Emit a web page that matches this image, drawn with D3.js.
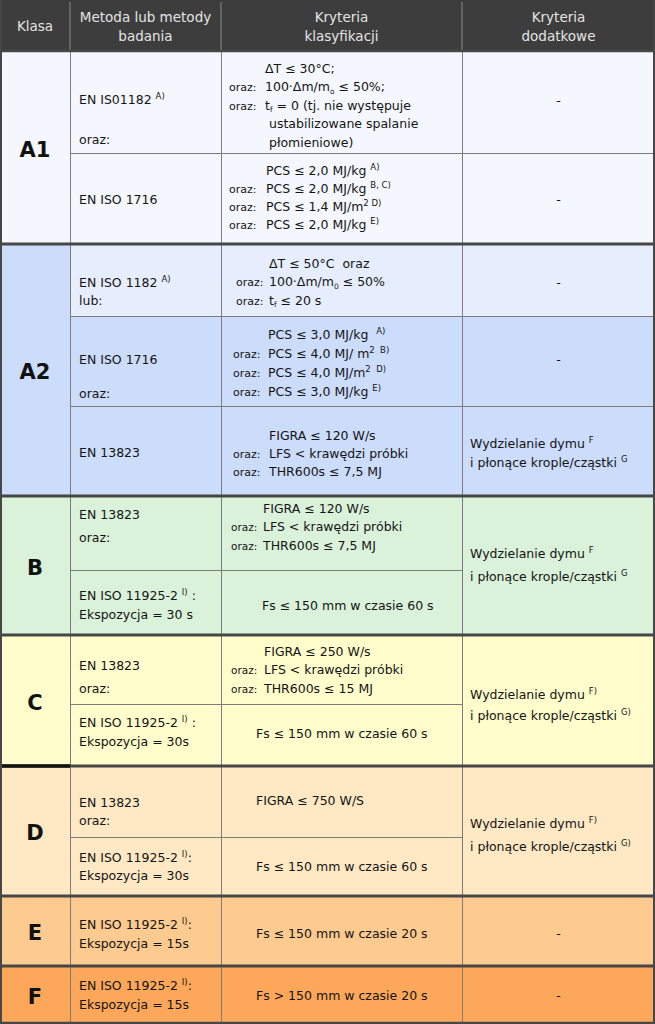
<!DOCTYPE html>
<html><head><meta charset="utf-8">
<script src="https://cdn.jsdelivr.net/npm/d3@7"></script>
<style>html,body{margin:0;padding:0;background:#fff;} svg{display:block;}</style>
</head><body>
<script>
// ---------- DATA ----------
const headers = [["Klasa"],["Metoda lub metody","badania"],["Kryteria","klasyfikacji"],["Kryteria","dodatkowe"]];
const classes = ["A1","A2","B","C","D","E","F"];
// group index of each sub-row
const subrowGroup = [0,0,1,1,1,2,2,3,3,4,4,5,6];
const methods = [
  ["EN IS01182 ^{A)}", "", "oraz:"],
  ["EN ISO 1716"],
  ["EN ISO 1182 ^{A)}", "lub:"],
  ["EN ISO 1716", "", "oraz:"],
  ["EN 13823"],
  ["EN 13823", "oraz:"],
  ["EN ISO 11925-2 ^{I)} :", "Ekspozycja = 30 s"],
  ["EN 13823", "oraz:"],
  ["EN ISO 11925-2 ^{I)} :", "Ekspozycja = 30s"],
  ["EN 13823", "oraz:"],
  ["EN ISO 11925-2 ^{I)}:", "Ekspozycja = 30s"],
  ["EN ISO 11925-2 ^{I)}:", "Ekspozycja = 15s"],
  ["EN ISO 11925-2 ^{I)}:", "Ekspozycja = 15s"]
];
const criteria = [
  [["","ΔT ≤ 30°C;"],["oraz:","100·Δm/m_{o} ≤ 50%;"],["oraz:","t_{f} = 0 (tj. nie występuje"],["","\u00a0ustabilizowane spalanie"],["","\u00a0płomieniowe)"]],
  [["","PCS ≤ 2,0 MJ/kg ^{A)}"],["oraz:","PCS ≤ 2,0 MJ/kg ^{B, C)}"],["oraz:","PCS ≤ 1,4 MJ/m^{2 D)}"],["oraz:","PCS ≤ 2,0 MJ/kg ^{E)}"]],
  [["","ΔT ≤ 50°C\u00a0 oraz"],["oraz:","100·Δm/m_{0} ≤ 50%"],["oraz:","t_{f} ≤ 20 s"]],
  [["","PCS ≤ 3,0 MJ/kg\u00a0 ^{A)}"],["oraz:","PCS ≤ 4,0 MJ/ m^{2\u00a0 B)}"],["oraz:","PCS ≤ 4,0 MJ/m^{2\u00a0 D)}"],["oraz:","PCS ≤ 3,0 MJ/kg ^{E)}"]],
  [["","FIGRA ≤ 120 W/s"],["oraz:","LFS < krawędzi próbki"],["oraz:","THR600s ≤ 7,5 MJ"]],
  [["","FIGRA ≤ 120 W/s"],["oraz:","LFS < krawędzi próbki"],["oraz:","THR600s ≤ 7,5 MJ"]],
  [["","Fs ≤ 150 mm w czasie 60 s"]],
  [["","FIGRA ≤ 250 W/s"],["oraz:","LFS < krawędzi próbki"],["oraz:","THR600s ≤ 15 MJ"]],
  [["","Fs ≤ 150 mm w czasie 60 s"]],
  [["","FIGRA ≤ 750 W/S"]],
  [["","Fs ≤ 150 mm w czasie 60 s"]],
  [["","Fs ≤ 150 mm w czasie 20 s"]],
  [["","Fs > 150 mm w czasie 20 s"]]
];
const smokeF = ["Wydzielanie dymu ^{F}","i płonące krople/cząstki ^{G}"];
const smokeFp = ["Wydzielanie dymu ^{F)}","i płonące krople/cząstki ^{G)}"];
const extras = [
  {rows:[0,0], lines:["-"]},
  {rows:[1,1], lines:["-"]},
  {rows:[2,2], lines:["-"]},
  {rows:[3,3], lines:["-"]},
  {rows:[4,4], lines:smokeF},
  {rows:[5,6], lines:smokeF},
  {rows:[7,8], lines:smokeFp},
  {rows:[9,10], lines:smokeFp},
  {rows:[11,11], lines:["-"]},
  {rows:[12,12], lines:["-"]}
];

// ---------- LAYOUT / STYLE ----------
const W = 655, H = 1024;
const colEdges = [0,70,221,462,655];
const headerH = 50;
const firstTop = 52, sepGap = 2;
const subHeights = [101,90,71,90,89,73,64,68,61,70,58,68,55];
const subFill = ["#f4f7fe","#f4f7fe","#e6eefd","#ccdcfb","#ccdcfb","#daf2da","#daf2da","#fffdcc","#fffdcc","#fee9c4","#fee9c4","#fdca8f","#fca75a"];
const classFill = ["#f4f7fe","#ccdcfb","#daf2da","#fffdcc","#fee9c4","#fdca8f","#fca75a"];
const methodPos = [[47,20],[46,0],[37,18],[43,17],[46,0],[17,23],[25,19],[29,23],[18,19],[35,18],[20,18],[27,19],[18,19]];
const critPos = [[16,18.5],[17,18.3],[18,18.5],[18,19],[29,18],[11,18.5],[35,0],[15,18.5],[29,0],[33,0],[29,0],[36,0],[28,0]];
const critX = [[229,265],[229,266],[236,269],[233,268],[233,269],[231,263],[0,262],[231,264],[0,256],[0,256],[0,256],[0,256],[0,256]];
const prefixSize = [11,11,11,11,11,10.5,10.5,10.5,10.5,10.5,10.5,10.5,10.5];
const extraPos = [[48,0],[46,0],[37,0],[43,0],[37,19],[56,23],[58,21],[56,23],[36,0],[28,0]];
const FONT = "'DejaVu Sans', Verdana, sans-serif";
const BASE = 12.5;

// ---------- SCALES ----------
const colNames = ["klasa","metoda","kryteria","dodatkowe"];
const xLeft = d3.scaleOrdinal().domain(colNames).range(colEdges.slice(0,4));
const xRight = d3.scaleOrdinal().domain(colNames).range(colEdges.slice(1));
const xMid = c => (xLeft(c)+xRight(c))/2;

// sub-row tops
const subTop = [];
{
  let y = firstTop;
  subHeights.forEach((h,i)=>{
    if (i>0 && subrowGroup[i]!==subrowGroup[i-1]) y += sepGap;
    subTop.push(y); y += h;
  });
}
const yTop = d3.scaleOrdinal().domain(d3.range(subHeights.length)).range(subTop);
const yBot = i => yTop(i)+subHeights[i];
const groupRows = classes.map((c,g)=>subrowGroup.map((gg,i)=>gg===g?i:-1).filter(i=>i>=0));
const gTop = g => yTop(groupRows[g][0]);
const gBot = g => yBot(groupRows[g][groupRows[g].length-1]);

const svg = d3.select("body").append("svg").attr("width",W).attr("height",H)
  .attr("font-family",FONT);

function rich(sel, str, size){
  sel.attr("xml:space","preserve").style("white-space","pre");
  const parts = str.split(/(\^\{[^}]*\}|_\{[^}]*\})/).filter(s=>s!=="");
  let shift = 0;
  parts.forEach(p=>{
    let t, target, fs;
    if (p.startsWith("^{")) { t=p.slice(2,-1); target=-5; fs=size*0.68; }
    else if (p.startsWith("_{")) { t=p.slice(2,-1); target=2.5; fs=size*0.6; }
    else { t=p; target=0; fs=size; }
    sel.append("tspan").attr("dy",target-shift).attr("font-size",fs).text(t);
    shift = target;
  });
}

// header
svg.append("rect").attr("x",0).attr("y",0).attr("width",W).attr("height",headerH+1).attr("fill","#3d3d3d");
headers.forEach((lines,ci)=>{
  const c = colNames[ci];
  const n = lines.length;
  lines.forEach((ln,li)=>{
    const cy = n===1 ? 26 : 17 + li*19;
    svg.append("text").attr("x",xMid(c)).attr("y",cy+5).attr("text-anchor","middle")
      .attr("font-size",13.5).attr("fill","#e4e4e4").text(ln);
  });
});
colEdges.slice(1,4).forEach(x=>{
  svg.append("line").attr("x1",x).attr("x2",x).attr("y1",2).attr("y2",headerH)
    .attr("stroke","#8a8a8a").attr("stroke-width",1);
});

// backgrounds
const gBg = svg.append("g");
classes.forEach((c,g)=>{
  gBg.append("rect").attr("x",0).attr("y",gTop(g)).attr("width",xRight("klasa")).attr("height",gBot(g)-gTop(g)).attr("fill",classFill[g]);
});
subHeights.forEach((h,i)=>{
  gBg.append("rect").attr("x",xLeft("metoda")).attr("y",yTop(i)).attr("width",W-xLeft("metoda")).attr("height",h).attr("fill",subFill[i]);
});

// thin grid lines
const grid = svg.append("g").attr("stroke","#7c7c7c").attr("stroke-width",1);
classes.forEach((c,g)=>{
  ["metoda","kryteria","dodatkowe"].forEach(col=>{
    const x = xLeft(col)+0.5;
    grid.append("line").attr("x1",x).attr("x2",x).attr("y1",gTop(g)).attr("y2",gBot(g));
  });
  const rows = groupRows[g];
  rows.slice(1).forEach(i=>{
    const spanned = extras.some(e=>e.rows[0]<i && e.rows[1]>=i);
    const x2 = spanned ? xLeft("dodatkowe") : W;
    grid.append("line").attr("x1",xLeft("metoda")).attr("x2",x2).attr("y1",yTop(i)+0.5).attr("y2",yTop(i)+0.5);
  });
});

// thick separators
const sep = svg.append("g").attr("stroke","#474747");
sep.append("line").attr("x1",0).attr("x2",W).attr("y1",headerH+1).attr("y2",headerH+1).attr("stroke-width",2.5);
classes.forEach((c,g)=>{
  if (g<classes.length-1){
    const y = (gBot(g)+gTop(g+1))/2;
    sep.append("line").attr("x1",0).attr("x2",W).attr("y1",y).attr("y2",y).attr("stroke-width",3);
  }
});
sep.append("line").attr("x1",0).attr("x2",xRight("klasa")).attr("y1",(gBot(3)+gTop(4))/2).attr("y2",(gBot(3)+gTop(4))/2).attr("stroke","#111").attr("stroke-width",3.5);
sep.append("line").attr("x1",1).attr("x2",1).attr("y1",0).attr("y2",H).attr("stroke-width",2);
sep.append("line").attr("x1",W-1).attr("x2",W-1).attr("y1",0).attr("y2",H).attr("stroke-width",2);
sep.append("line").attr("x1",0).attr("x2",W).attr("y1",H-1).attr("y2",H-1).attr("stroke-width",2.5);

// class labels
classes.forEach((c,g)=>{
  svg.append("text").attr("x",xMid("klasa")).attr("y",(gTop(g)+gBot(g))/2+1.5+7.5)
    .attr("text-anchor","middle").attr("font-size",21).attr("font-weight","bold")
    .attr("fill","#111").text(c);
});

const txt = svg.append("g").attr("fill","#141414");
methods.forEach((lines,i)=>{
  lines.forEach((ln,li)=>{
    if (!ln) return;
    const cy = yTop(i)+methodPos[i][0]+li*methodPos[i][1];
    rich(txt.append("text").attr("x",xLeft("metoda")+9).attr("y",cy+4.5).attr("font-size",BASE), ln, BASE);
  });
});
criteria.forEach((lines,i)=>{
  lines.forEach((ln,li)=>{
    const cy = yTop(i)+critPos[i][0]+li*critPos[i][1];
    if (ln[0]) txt.append("text").attr("x",critX[i][0]).attr("y",cy+4.5).attr("font-size",prefixSize[i]).text(ln[0]);
    rich(txt.append("text").attr("x",critX[i][1]).attr("y",cy+4.5).attr("font-size",BASE), ln[1], BASE);
  });
});
extras.forEach((e,k)=>{
  const top = yTop(e.rows[0]);
  e.lines.forEach((ln,li)=>{
    const cy = top+extraPos[k][0]+li*extraPos[k][1];
    const t = txt.append("text").attr("y",cy+4.5).attr("font-size",BASE);
    if (ln==="-") t.attr("x",xMid("dodatkowe")).attr("text-anchor","middle").text(ln);
    else rich(t.attr("x",xLeft("dodatkowe")+8), ln, BASE);
  });
});
</script>
</body></html>
